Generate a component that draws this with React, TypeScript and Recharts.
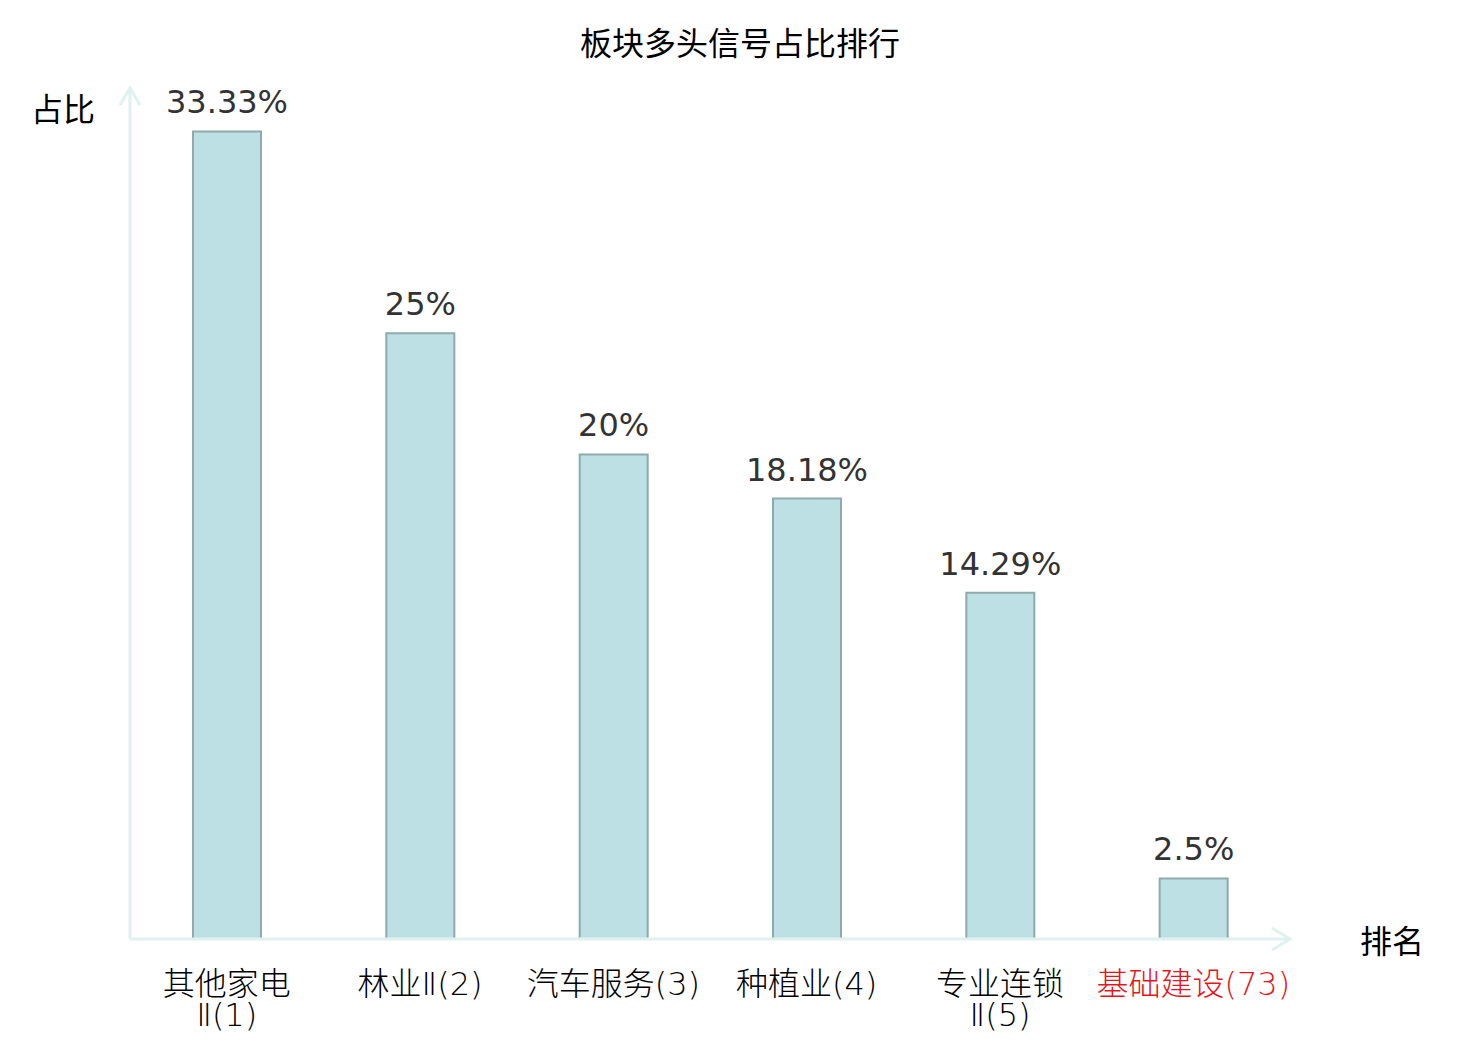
import React from 'react';
import { BarChart, Bar, XAxis, YAxis, LabelList } from 'recharts';

const categories = ['其他家电Ⅱ(1)', '林业Ⅱ(2)', '汽车服务(3)', '种植业(4)', '专业连锁Ⅱ(5)', '基础建设(73)'];
const tickLines = [['其他家电', 'Ⅱ(1)'], ['林业Ⅱ(2)'], ['汽车服务(3)'], ['种植业(4)'], ['专业连锁', 'Ⅱ(5)'], ['基础建设(73)']];
const values = [33.33, 25, 20, 18.18, 14.29, 2.5];
const highlighted = [false, false, false, false, false, true];
const yDomain = [0, 35];

const data = categories.map((name, i) => ({ name, value: values[i], idx: i }));

const FONT = '"DejaVu Sans", "Noto Sans CJK SC", sans-serif';
const AXIS_COLOR = '#dff2ef';

const CategoryTick = (props: any) => {
  const { x, y, payload } = props;
  const i = payload.index ?? categories.indexOf(payload.value);
  const lines = tickLines[i] || [String(payload.value)];
  return (
    <text
      x={x}
      y={y}
      textAnchor="middle"
      fontFamily={FONT}
      fontSize={32}
      fontWeight={200}
      fill={highlighted[i] ? '#e3161c' : '#000'}
    >
      {lines.map((l, k) => (
        <tspan key={k} x={x} dy={k === 0 ? 56 : 31}>
          {l}
        </tspan>
      ))}
    </text>
  );
};

const YArrow = (props: any) => {
  const vb = props.viewBox || {};
  const x = vb.x + (vb.width || 0);
  const y = vb.y;
  return (
    <g>
      <polyline
        points={`${x - 10},${y + 14} ${x},${y - 3} ${x + 10},${y + 14}`}
        fill="none"
        stroke={AXIS_COLOR}
        strokeWidth={3}
      />
      <line x1={x} y1={y} x2={x} y2={y - 3} stroke={AXIS_COLOR} strokeWidth={3} />
      <text x={x - 67} y={y + 30} textAnchor="middle" fontFamily={FONT} fontSize={32} fill="#000">
        占比
      </text>
    </g>
  );
};

const XArrow = (props: any) => {
  const vb = props.viewBox || {};
  const r = vb.x + vb.width;
  const y = vb.y;
  return (
    <g>
      <polyline
        points={`${r - 18},${y - 11} ${r},${y} ${r - 18},${y + 11}`}
        fill="none"
        stroke={AXIS_COLOR}
        strokeWidth={3}
      />
      <text x={r + 102} y={y + 14} textAnchor="middle" fontFamily={FONT} fontSize={32} fill="#000">
        排名
      </text>
    </g>
  );
};

export default function App() {
  return (
    <div style={{ position: 'absolute', left: 0, top: 0, width: 1480, height: 1040, background: '#fff' }}>
      <svg width={1480} height={80} style={{ position: 'absolute', left: 0, top: 0 }}>
        <text x={740} y={55} textAnchor="middle" fontFamily={FONT} fontSize={32} fill="#000">
          板块多头信号占比排行
        </text>
      </svg>
      <div style={{ position: 'absolute', left: 0, top: 0 }}>
        <BarChart
          width={1480}
          height={1040}
          data={data}
          margin={{ top: 91, right: 190, left: 129, bottom: 41 }}
        >
          <XAxis
            dataKey="name"
            height={60}
            interval={0}
            tickLine={false}
            tickSize={0}
            tickMargin={0}
            axisLine={{ stroke: AXIS_COLOR, strokeWidth: 3 }}
            tick={<CategoryTick />}
            label={<XArrow />}
          />
          <YAxis
            type="number"
            domain={yDomain}
            width={1}
            tick={false}
            tickLine={false}
            axisLine={{ stroke: AXIS_COLOR, strokeWidth: 3 }}
            label={<YArrow />}
          />
          <Bar
            dataKey="value"
            barSize={68}
            fill="#bce0e3"
            stroke="#8eaaac"
            strokeWidth={2}
            isAnimationActive={false}
          >
            <LabelList
              dataKey="value"
              position="top"
              offset={18}
              fontFamily={FONT}
              fontSize={32}
              fill="#333"
              formatter={(v: any) => `${v}%`}
            />
          </Bar>
        </BarChart>
      </div>
    </div>
  );
}
